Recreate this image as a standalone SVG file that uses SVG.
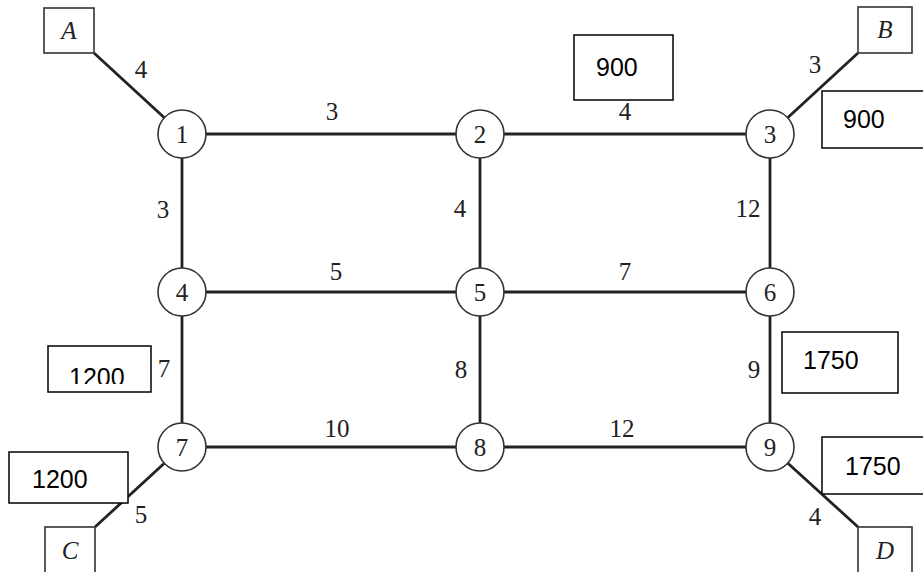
<svg xmlns="http://www.w3.org/2000/svg" width="923" height="572" viewBox="0 0 923 572">
<style>
.edge{stroke:#222;stroke-width:2.8;fill:none;stroke-linecap:butt}
.node circle{fill:#fff;stroke:#333;stroke-width:1.6}
.node text{font-family:"Liberation Serif",serif;font-size:25px;fill:#222;text-anchor:middle}
.term rect{fill:#fff;stroke:#333;stroke-width:1.6}
.term text{font-family:"Liberation Serif",serif;font-style:italic;font-size:25px;fill:#222;text-anchor:middle}
.lbl{font-family:"Liberation Serif",serif;font-size:25px;fill:#222;text-anchor:middle}
.note rect{fill:#fff;stroke:#000;stroke-width:1.5}
.note text{font-family:"Liberation Sans",Arial,sans-serif;font-size:25px;fill:#000}
</style>
<defs>
<clipPath id="clip1200a"><rect x="48" y="346" width="103" height="38"/></clipPath>
</defs>
<rect width="923" height="572" fill="#fff"/>
<g id="connectors">
<line class="edge" x1="182" y1="134" x2="480" y2="134"/>
<line class="edge" x1="480" y1="134" x2="770" y2="134"/>
<line class="edge" x1="182" y1="292" x2="480" y2="292"/>
<line class="edge" x1="480" y1="292" x2="770" y2="292"/>
<line class="edge" x1="182" y1="447" x2="480" y2="447"/>
<line class="edge" x1="480" y1="447" x2="770" y2="447"/>
<line class="edge" x1="182" y1="134" x2="182" y2="292"/>
<line class="edge" x1="182" y1="292" x2="182" y2="447"/>
<line class="edge" x1="480" y1="134" x2="480" y2="292"/>
<line class="edge" x1="480" y1="292" x2="480" y2="447"/>
<line class="edge" x1="770" y1="134" x2="770" y2="292"/>
<line class="edge" x1="770" y1="292" x2="770" y2="447"/>
<line class="edge" x1="94" y1="53" x2="182" y2="134"/>
<line class="edge" x1="858" y1="53" x2="770" y2="134"/>
<line class="edge" x1="95" y1="527" x2="182" y2="447"/>
<line class="edge" x1="858" y1="527" x2="770" y2="447"/>
<text class="lbl" x="141" y="78">4</text>
<text class="lbl" x="332" y="120">3</text>
<text class="lbl" x="625" y="120">4</text>
<text class="lbl" x="815" y="73">3</text>
<text class="lbl" x="163" y="218">3</text>
<text class="lbl" x="460" y="217">4</text>
<text class="lbl" x="748" y="217">12</text>
<text class="lbl" x="336" y="280">5</text>
<text class="lbl" x="625" y="280">7</text>
<text class="lbl" x="164" y="377">7</text>
<text class="lbl" x="461" y="378">8</text>
<text class="lbl" x="754" y="378">9</text>
<text class="lbl" x="337" y="437">10</text>
<text class="lbl" x="622" y="437">12</text>
<text class="lbl" x="141" y="523">5</text>
<text class="lbl" x="815" y="525">4</text>
</g>
<g id="n1" class="node"><circle cx="182" cy="134" r="24"/><text x="182" y="143">1</text></g>
<g id="n2" class="node"><circle cx="480" cy="134" r="24"/><text x="480" y="143">2</text></g>
<g id="n3" class="node"><circle cx="770" cy="134" r="24"/><text x="770" y="143">3</text></g>
<g id="n4" class="node"><circle cx="182" cy="292" r="24"/><text x="182" y="301">4</text></g>
<g id="n5" class="node"><circle cx="480" cy="292" r="24"/><text x="480" y="301">5</text></g>
<g id="n6" class="node"><circle cx="770" cy="292" r="24"/><text x="770" y="301">6</text></g>
<g id="n7" class="node"><circle cx="182" cy="447" r="24"/><text x="182" y="456">7</text></g>
<g id="n8" class="node"><circle cx="480" cy="447" r="24"/><text x="480" y="456">8</text></g>
<g id="n9" class="node"><circle cx="770" cy="447" r="24"/><text x="770" y="456">9</text></g>
<g id="tA" class="term"><rect x="44" y="8" width="50" height="45"/><text x="69" y="39">A</text></g>
<g id="tB" class="term"><rect x="858" y="7" width="54" height="46"/><text x="885" y="38">B</text></g>
<g id="tC" class="term"><rect x="45" y="527" width="50" height="50"/><text x="70" y="559">C</text></g>
<g id="tD" class="term"><rect x="858" y="527" width="54" height="50"/><text x="885" y="559">D</text></g>
<g id="note900a" class="note"><rect x="574" y="35" width="99" height="65"/><text x="596" y="76">900</text></g>
<g id="note900b" class="note"><rect x="822" y="91" width="110" height="57"/><text x="843" y="128">900</text></g>
<g id="note1200a" class="note"><rect x="48" y="346" width="103" height="46"/><text x="69" y="386" clip-path="url(#clip1200a)">1200</text></g>
<g id="note1200b" class="note"><rect x="9" y="452" width="119" height="51"/><text x="32" y="488">1200</text></g>
<g id="note1750a" class="note"><rect x="782" y="332" width="116" height="61"/><text x="803" y="369">1750</text></g>
<g id="note1750b" class="note"><rect x="822" y="437" width="110" height="57"/><text x="845" y="475">1750</text></g>
</svg>
